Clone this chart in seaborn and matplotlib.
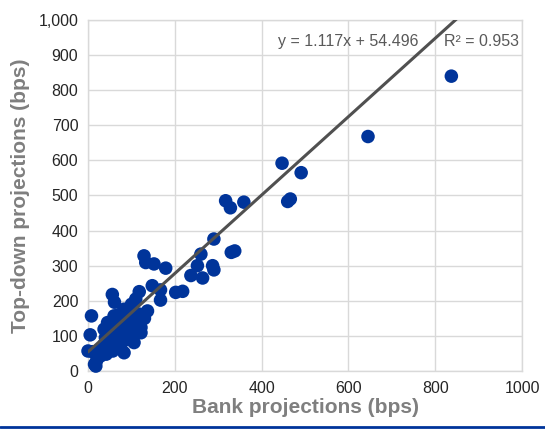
import numpy as np
import pandas as pd
import matplotlib
matplotlib.use("Agg")
import matplotlib.pyplot as plt
import matplotlib.ticker as mticker
from matplotlib.lines import Line2D
import seaborn as sns

# bank vs top-down projections (bps)
bank = [837, 645, 447, 491, 460, 466, 359, 317, 328, 290, 330, 338,
        260, 252, 287, 290, 237, 264, 129, 133, 152, 179, 202, 218,
        148, 167, 167, 118, 110, 56, 61, 8, 5, 0, 15, 18,
        29, 45, 37, 45, 37, 60, 83, 98, 75, 91, 106, 75,
        60, 122, 114, 91, 68, 52, 83, 137, 103, 118, 95, 111,
        122, 80, 95, 73, 50, 34, 27, 42, 57, 103, 65, 88,
        73, 20, 10, 130, 100, 110, 70, 85, 55, 40, 25]
topdown = [840, 668, 592, 565, 483, 490, 481, 485, 465, 376, 338, 342,
           333, 300, 300, 288, 272, 265, 328, 309, 305, 293, 224, 227,
           243, 231, 202, 226, 205, 218, 196, 157, 103, 57, 19, 14,
           43, 62, 76, 138, 119, 157, 176, 166, 109, 90, 81, 71,
           90, 109, 138, 138, 133, 114, 52, 171, 171, 162, 143, 133,
           124, 105, 95, 76, 86, 67, 48, 48, 57, 114, 114, 124,
           148, 30, 55, 150, 190, 120, 160, 140, 100, 95, 60]

slope = 1.117
intercept = 54.496
r2 = 0.953

x_ticks = [0, 200, 400, 600, 800, 1000]
y_ticks = list(range(0, 1001, 100))

sns.set_style("white")
plt.rcParams['font.family'] = ['Liberation Sans', 'DejaVu Sans']

df = pd.DataFrame({"bank": bank, "topdown": topdown})

fig = plt.figure(figsize=(5.45, 4.29), dpi=100)
ax = fig.add_axes([0.1615, 0.1352, 0.7965, 0.8182])

sns.scatterplot(data=df, x="bank", y="topdown", ax=ax, s=95, color="#00349A",
                edgecolor="none", zorder=3, clip_on=False)

xs = np.array([0, 1000])
ax.plot(xs, slope * xs + intercept, color="#505050", lw=2.2, zorder=4)

ax.set_xlim(0, 1000)
ax.set_ylim(0, 1000)
ax.set_xticks(x_ticks)
ax.set_yticks(y_ticks)
ax.yaxis.set_major_formatter(mticker.StrMethodFormatter("{x:,.0f}"))
ax.grid(True, color="#d9d9d9", lw=1)
ax.set_axisbelow(True)
for sp in ax.spines.values():
    sp.set_color("#d9d9d9")
    sp.set_linewidth(1)
ax.tick_params(length=0, labelsize=11.5, colors="#262626", pad=7)

ax.set_xlabel("Bank projections (bps)", fontsize=15, fontweight="bold", color="#7f7f7f", labelpad=2)
ax.set_ylabel("Top-down projections (bps)", fontsize=15, fontweight="bold", color="#7f7f7f", labelpad=6)

ax.text(0.437, 0.938, f"y = {slope}x + {intercept}", transform=ax.transAxes,
        fontsize=11.5, color="#595959", va="center", ha="left")
ax.text(0.82, 0.938, f"R² = {r2}", transform=ax.transAxes,
        fontsize=11.5, color="#595959", va="center", ha="left")

fig.add_artist(Line2D([0, 1], [0.005, 0.005], transform=fig.transFigure,
                      color="#00349A", lw=2))

fig.savefig("out.png", dpi=100)
